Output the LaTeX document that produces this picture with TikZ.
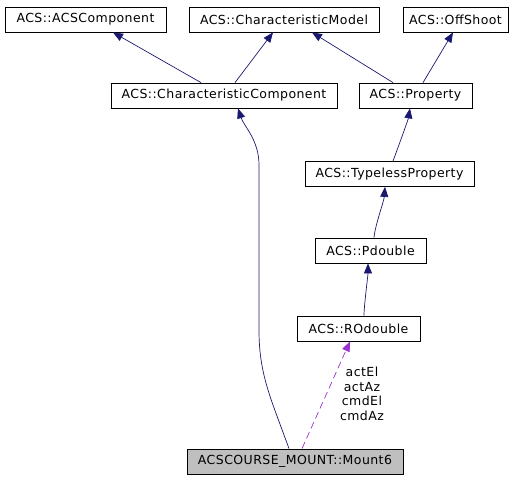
\documentclass[tikz,border=0pt]{standalone}
\usepackage{fontspec}
\setmainfont[LetterSpace=3.5]{DejaVu Sans}
\usetikzlibrary{arrows.meta}
\definecolor{edgeblue}{RGB}{25,25,112}
\definecolor{usedpurple}{RGB}{154,50,205}
\definecolor{boxgray}{RGB}{191,191,191}
\begin{document}
\begin{tikzpicture}[x=1pt,y=1pt]
\tikzstyle{every node}+=[inner sep=0pt,font=\fontsize{12.5}{14.5}\selectfont]
\tikzstyle{cls}=[draw=black,line width=0.8pt,minimum height=25pt]
\tikzstyle{inherit}=[draw=edgeblue,line width=0.7pt,-{Triangle[length=10pt,width=8pt]}]
\tikzstyle{uses}=[draw=usedpurple,line width=0.7pt,dash pattern=on 7pt off 4pt,-{Triangle[length=10pt,width=8pt]}]
\useasboundingbox (0,0) rectangle (523,-480);
\node [cls,minimum width=161pt] (acscomp) at (85.5,-19.5) {ACS::ACSComponent};
\node [cls,minimum width=190pt] (charmodel) at (284,-19.5) {ACS::CharacteristicModel};
\node [cls,minimum width=105pt] (offshoot) at (455.5,-19.5) {ACS::OffShoot};
\node [cls,minimum width=226pt] (charcomp) at (224,-95.5) {ACS::CharacteristicComponent};
\node [cls,minimum width=113pt] (property) at (415.5,-95.5) {ACS::Property};
\node [cls,minimum width=169pt] (typeless) at (389.5,-174) {ACS::TypelessProperty};
\node [cls,minimum width=111pt] (pdouble) at (370.5,-250.5) {ACS::Pdouble};
\node [cls,minimum width=123pt] (rodouble) at (358.5,-328.5) {ACS::ROdouble};
\node [cls,fill=boxgray,minimum width=216pt] (mount) at (295,-461.5) {ACSCOURSE\_MOUNT::Mount6};
\draw [inherit] ([xshift=-23pt]charcomp.north) -- ([xshift=27.5pt]acscomp.south);
\draw [inherit] ([xshift=11pt]charcomp.north) -- ([xshift=-11pt]charmodel.south);
\draw [inherit] ([xshift=-22.5pt]property.north) -- ([xshift=28pt]charmodel.south);
\draw [inherit] ([xshift=7.5pt]property.north) -- ([xshift=-2.5pt]offshoot.south);
\draw [inherit] ([xshift=3.5pt]typeless.north) .. controls +(0,-0) and +(-2,-12) .. ([xshift=-5.5pt]property.south);
\draw [inherit] ([xshift=3.5pt]pdouble.north) .. controls +(1,12) and +(-1,-14) .. ([xshift=-4.5pt]typeless.south);
\draw [inherit] ([xshift=5.5pt]rodouble.north) .. controls +(0,10) and +(0,-12) .. ([xshift=-2.5pt]pdouble.south);
\draw [inherit] ([xshift=-6pt]mount.north) .. controls +(-18,50) and +(0,-45) .. (259,-330) -- (259,-165) .. controls +(0,25) and +(6,-18) .. ([xshift=14pt]charcomp.south);
\draw [uses] ([xshift=7pt]mount.north) -- ([xshift=-8.5pt]rodouble.south);
\node [align=center] (uselabel) at (362,-394) {actEl\\actAz\\cmdEl\\cmdAz};
\end{tikzpicture}
\end{document}
